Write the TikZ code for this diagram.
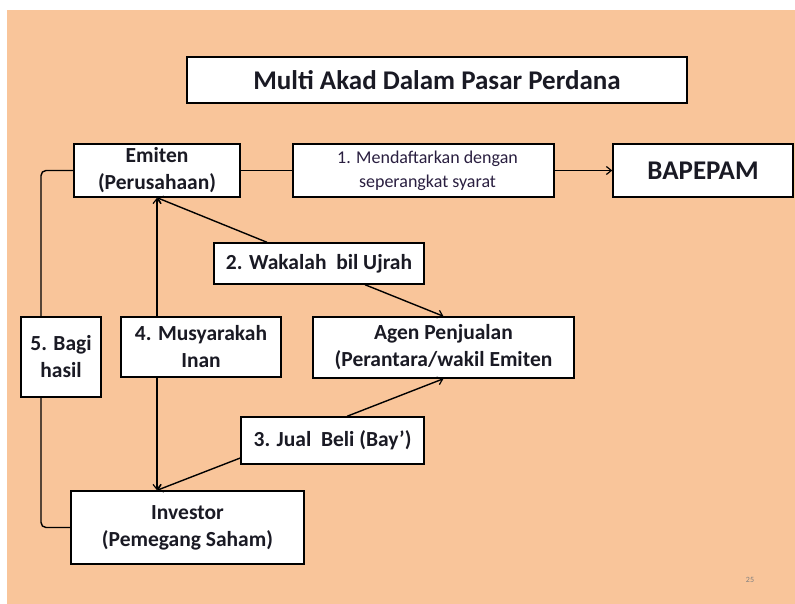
\documentclass[tikz,border=0pt]{standalone}
\usepackage{fontspec}
\setmainfont{Carlito}
\usetikzlibrary{arrows.meta,calc}
\definecolor{peach}{HTML}{F9C59A}
\definecolor{txt}{HTML}{1A1A24}
\definecolor{purp}{HTML}{2A1F40}
\begin{document}
\begin{tikzpicture}[x=1pt,y=-1pt,
  box/.style={draw=black,line width=1.4pt,fill=white,inner sep=0pt,align=center,text=txt,
    font=\bfseries\fontsize{21.5}{27}\selectfont},
  conn/.style={line width=1.4pt,draw=black},
  arr/.style={conn,-{Straight Barb[length=5pt,width=8pt,line width=1.2pt]}}]
\useasboundingbox (0,0) rectangle (795,604);
\fill[peach] (7,10) rectangle (795,604);
% nodes
\node[box,minimum width=500pt,minimum height=46pt,font=\bfseries\fontsize{27}{32}\selectfont] (title) at (437,80) {Multi Akad Dalam Pasar Perdana};
\node[box,minimum width=166pt,minimum height=53pt] (emiten) at (157,170.5) {Emiten\\(Perusahaan)};
\node[box,minimum width=261pt,minimum height=53pt,text=purp,font=\fontsize{18}{24}\selectfont] (daftar) at (423.5,170.5) {\hspace*{8pt}1. Mendaftarkan dengan\\\hspace*{8pt}seperangkat syarat};
\node[box,minimum width=180pt,minimum height=53pt,font=\bfseries\fontsize{27}{32}\selectfont] (bapepam) at (703,170.5) {BAPEPAM};
\node[box,minimum width=210pt,minimum height=41pt] (wakalah) at (319,263.5) {2. Wakalah\ \ bil Ujrah};
\node[box,minimum width=261pt,minimum height=61pt] (agen) at (443.5,347.5) {Agen Penjualan\\(Perantara/wakil Emiten};
\node[box,minimum width=160pt,minimum height=60pt] (musy) at (201,347) {4. Musyarakah\\Inan};
\node[box,minimum width=80pt,minimum height=80pt] (bagi) at (61,357) {5. Bagi\\hasil};
\node[box,minimum width=183pt,minimum height=47pt] (jual) at (332.5,440.5) {3. Jual\ \ Beli (Bay’)};
\node[box,minimum width=233pt,minimum height=73pt] (investor) at (187.5,527.5) {Investor\\(Pemegang Saham)};
\node[text=gray,font=\fontsize{8}{10}\selectfont] (page) at (750,580) {25};
\coordinate (c5) at (41,0);
% connectors
\draw[conn] (emiten.east) -- (daftar.west);
\draw[arr] (daftar.east) -- (bapepam.west);
\draw[arr] (emiten.south |- musy.north) -- (emiten.south);
\draw[arr] (emiten.south |- musy.south) -- (emiten.south |- investor.north);
\draw[arr] ([xshift=-52pt]wakalah.north) -- (emiten.south);
\draw[arr] ([xshift=46pt]wakalah.south) -- (agen.north);
\draw[arr] ([xshift=14.5pt]jual.north) -- (agen.south);
\draw[arr] ([yshift=-17.5pt]jual.west) -- (emiten.south |- investor.north);
\draw[conn,rounded corners=5pt] (emiten.west) -| (c5 |- bagi.north);
\draw[conn,rounded corners=5pt] (c5 |- bagi.south) |- (investor.west);
\end{tikzpicture}
\end{document}
